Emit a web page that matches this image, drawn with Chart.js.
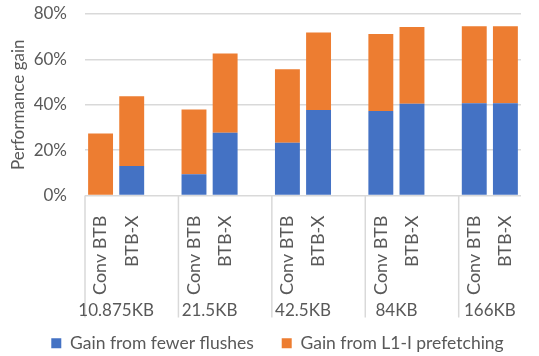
<!DOCTYPE html>
<html>
<head>
<meta charset="utf-8">
<script src="https://cdn.jsdelivr.net/npm/chart.js@4"></script>
<style>
  html, body { margin: 0; padding: 0; background: #fff; overflow: hidden; }
  #wrap { width: 539px; height: 356px; }
</style>
</head>
<body>
<div id="wrap"><canvas id="chart_gain"></canvas></div>
<script>
// one slot per bar, plus an empty slot between size groups
var barLabels = [
    'Conv BTB', 'BTB-X', '',
    'Conv BTB', 'BTB-X', '',
    'Conv BTB', 'BTB-X', '',
    'Conv BTB', 'BTB-X', '',
    'Conv BTB', 'BTB-X'
];
var groupLabels = ['10.875KB', '21.5KB', '42.5KB', '84KB', '166KB'];
// first and last slot index of every group
var groupStart = [0, 3, 6, 9, 12];
var groupEnd = [1, 4, 7, 10, 13];

var fewerFlushes = [0, 13, null, 9.4, 27.7, null, 23.3, 37.7, null, 37.3, 40.4, null, 40.7, 40.7];
var l1iPrefetch = [27.3, 30.8, null, 28.5, 34.9, null, 32.4, 34.2, null, 33.9, 33.9, null, 33.9, 33.9];

var yTicks = [0, 20, 40, 60, 80];

var FONT = 'Lato, Carlito, sans-serif';
var TXT = '#595959';
var GRID = '#d9d9d9';

var chart_gain = new Chart(document.getElementById('chart_gain'), {
    type: 'bar',
    data: {
        labels: barLabels,
        datasets: [
            {
                label: 'Gain from fewer flushes',
                data: fewerFlushes,
                backgroundColor: '#4472C4',
                borderWidth: 0
            },
            {
                label: 'Gain from L1-I prefetching',
                data: l1iPrefetch,
                backgroundColor: '#ED7D31',
                borderWidth: 0
            }
        ]
    },
    options: {
        animation: false,
        responsive: true,
        maintainAspectRatio: false,
        layout: { padding: { top: 14, right: 0, left: 16, bottom: -6 } },
        datasets: { bar: { categoryPercentage: 1, barPercentage: 0.8 } },
        plugins: {
            legend: {
                position: 'bottom',
                labels: {
                    color: TXT,
                    font: { family: FONT, size: 17.5 },
                    boxWidth: 10,
                    boxHeight: 10,
                    padding: 10,
                    generateLabels: function (chart) {
                        var items = Chart.defaults.plugins.legend.labels.generateLabels(chart);
                        // wider gap between the two entries
                        items[0].text += '    ';
                        return items;
                    }
                }
            },
            tooltip: { enabled: false }
        },
        scales: {
            x: {
                stacked: true,
                grid: { display: false },
                border: { display: false },
                ticks: {
                    color: TXT,
                    font: { family: FONT, size: 18 },
                    minRotation: 90,
                    maxRotation: 90,
                    autoSkip: false,
                    padding: 12
                },
                afterFit: function (scale) { scale.height = 129; }
            },
            y: {
                stacked: true,
                min: 0,
                max: 80,
                afterBuildTicks: function (scale) {
                    scale.ticks = yTicks.map(function (v) { return { value: v }; });
                },
                afterFit: function (scale) {
                    scale.width = 69;
                    scale.paddingTop = 0;
                    scale.paddingBottom = 0;
                },
                grid: { color: GRID, lineWidth: 1.5, drawTicks: false },
                border: { display: false },
                ticks: {
                    color: TXT,
                    font: { family: FONT, size: 17 },
                    padding: 18,
                    callback: function (v) { return v + '%'; }
                },
                title: {
                    display: true,
                    text: 'Performance gain',
                    color: TXT,
                    font: { family: FONT, size: 17 },
                    padding: { top: -8, bottom: 0 }
                }
            }
        }
    },
    plugins: [{
        id: 'groupAxis',
        afterDraw: function (chart) {
            var ctx = chart.ctx;
            var x = chart.scales.x;
            var top = x.top;
            ctx.save();
            ctx.strokeStyle = GRID;
            ctx.lineWidth = 1.5;
            for (var i = 0; i < groupStart.length; i++) {
                var left = x.getPixelForValue(groupStart[i] - 0.5);
                ctx.beginPath();
                ctx.moveTo(left, top);
                ctx.lineTo(left, top + 122);
                ctx.stroke();
            }
            ctx.fillStyle = TXT;
            ctx.font = '17px ' + FONT;
            ctx.textAlign = 'center';
            ctx.textBaseline = 'middle';
            for (var j = 0; j < groupLabels.length; j++) {
                var a = x.getPixelForValue(groupStart[j] - 0.5);
                var b = x.getPixelForValue(groupEnd[j] + 0.5);
                ctx.fillText(groupLabels[j], (a + b) / 2, top + 115);
            }
            ctx.restore();
        }
    }]
});
</script>
</body>
</html>
